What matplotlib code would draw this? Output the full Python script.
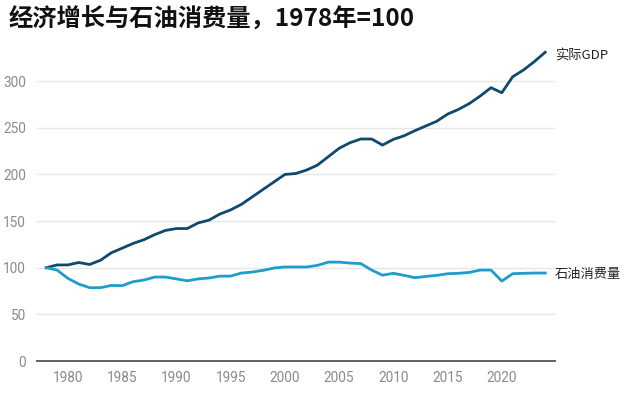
import matplotlib
matplotlib.use("Agg")
import matplotlib.pyplot as plt

plt.rcParams['font.family'] = ['Noto Sans CJK SC', 'DejaVu Sans']

years = list(range(1978, 2025))
gdp = [100, 103, 103, 105.6, 103.5, 108, 116, 121, 126, 130, 135.5, 140,
       142, 142, 148, 151, 157.5, 162, 168, 176, 184, 192, 200, 201, 204.7,
       210, 219, 228, 234, 238, 238, 231.5, 237.6, 241.5, 247, 252, 257,
       264.7, 269.7, 276, 284, 293, 287.6, 304.7, 312, 321, 331]
oil = [100, 97.5, 88.6, 82.5, 78.6, 78.6, 81, 80.8, 85, 86.8, 90, 90,
       88, 86, 88, 89, 91, 91, 94.3, 95.4, 97.2, 99.7, 100.8, 100.8, 100.8,
       102.5, 106, 106, 105, 104.4, 97.5, 92, 94, 91.8, 89.3, 90.7, 91.8,
       93.6, 94, 95, 97.5, 97.5, 85.7, 93.6, 94, 94.3, 94.3]
series_labels = ['实际GDP', '石油消费量']
yticks = [0, 50, 100, 150, 200, 250, 300]
xticks = [1980, 1985, 1990, 1995, 2000, 2005, 2010, 2015, 2020]
title = '经济增长与石油消费量，1978年=100'

fig = plt.figure(figsize=(6.36, 3.93), dpi=100)
ax = fig.add_axes([0.0582, 0.0814, 0.8144, 0.807])

c_gdp = '#0d4a6e'
c_oil = '#1e9ccb'
ax.plot(years, gdp, color=c_gdp, lw=2.0, solid_joinstyle='round', zorder=3)
ax.plot(years, oil, color=c_oil, lw=2.0, solid_joinstyle='round', zorder=3)

ax.set_xlim(1977.15, 2024.9)
ax.set_ylim(0, 340)
ax.set_yticks(yticks)
ax.set_xticks(xticks)
ax.grid(axis='y', color='#e6e6e6', lw=1.0, zorder=0)
ax.set_axisbelow(True)
for s in ['top', 'right', 'left']:
    ax.spines[s].set_visible(False)
ax.spines['bottom'].set_color('#555555')
ax.spines['bottom'].set_linewidth(1.3)
ax.tick_params(axis='both', length=0, labelsize=9.8, labelcolor='#8a8a8a')
ax.tick_params(axis='y', pad=8)
ax.tick_params(axis='x', pad=7)
for lab in ax.get_xticklabels() + ax.get_yticklabels():
    lab.set_family(['Roboto', 'DejaVu Sans'])

ax.annotate(series_labels[0], xy=(years[-1], gdp[-1]), xytext=(7, -2),
            textcoords='offset points', va='center', ha='left', fontsize=9.5,
            color='#222222', annotation_clip=False)
ax.annotate(series_labels[1], xy=(years[-1], oil[-1]), xytext=(7, -1),
            textcoords='offset points', va='center', ha='left', fontsize=9.5,
            color='#222222', annotation_clip=False)

fig.text(0.014, 0.98, title, fontsize=17.5, fontweight='bold', va='top', ha='left',
         color='#111111')

fig.savefig('out.png', dpi=100)
